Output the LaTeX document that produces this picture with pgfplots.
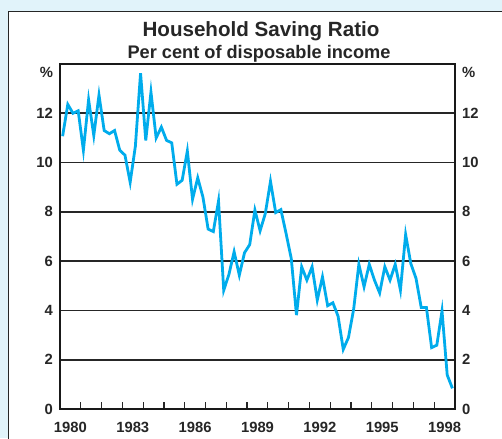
\documentclass[border=0pt]{standalone}
\usepackage{fontspec}
\setmainfont{Liberation Sans}
\usepackage{pgfplots}
\pgfplotsset{compat=1.18}
\definecolor{bgblue}{RGB}{225,243,250}
\definecolor{linecyan}{RGB}{0,172,236}
\begin{document}
\begin{tikzpicture}
\path[use as bounding box] (0,0) rectangle (251pt,219pt);
\fill[bgblue] (0,0) rectangle (251pt,219pt);
\filldraw[fill=white,draw=black!85,line width=0.5pt] (4pt,-20pt) rectangle (280pt,213pt);
\node[anchor=base,font=\fontsize{10.3}{12}\selectfont\bfseries,text=black!85] at (130.5pt,200.5pt) {Household Saving Ratio};
\node[anchor=base,font=\fontsize{9.1}{10}\selectfont\bfseries,text=black!85] at (129.5pt,189.6pt) {Per cent of disposable income};
\pgfplotsset{
  common/.style={
    scale only axis, width=197.5pt, height=172.5pt,
    at={(30pt,14.5pt)}, anchor=south west,
    xmin=1980, xmax=1999, ymin=0, ymax=14,
    tick label style={font=\fontsize{7.4}{8}\selectfont\bfseries, text=black!85},
    /pgf/number format/assume math mode=true,
    clip=false,
  }
}
\begin{axis}[common,
  axis line style={line width=1pt, black!90},
  xtick={1980,...,1998}, xticklabels={}, xtick pos=bottom, tick align=inside,
  major tick length=3.5pt, x tick style={line width=0.6pt, black!85},
  extra x ticks={1980.5,1983.5,1986.5,1989.5,1992.5,1995.5,1998.5},
  extra x tick labels={1980,1983,1986,1989,1992,1995,1998},
  extra x tick style={major tick length=0pt, tick label style={yshift=-3pt}},
  ytick={0,2,...,12}, ytick pos=left, yticklabel pos=left,
  y tick style={draw=none},
  ymajorgrids, grid style={line width=0.85pt, black!85},
  extra y ticks={13.65}, extra y tick labels={\%},
  extra y tick style={grid=none},
]
\addplot[linecyan, line width=1.4pt, mark=none] coordinates {
(1980.125,11.07) (1980.375,12.36) (1980.625,12.0) (1980.875,12.1)
(1981.125,10.5) (1981.375,12.55) (1981.625,11.1) (1981.875,12.74)
(1982.125,11.3) (1982.375,11.17) (1982.625,11.3) (1982.875,10.5)
(1983.125,10.3) (1983.375,9.2) (1983.625,10.66) (1983.875,13.63)
(1984.125,10.9) (1984.375,12.86) (1984.625,11.0) (1984.875,11.44)
(1985.125,10.9) (1985.375,10.8) (1985.625,9.12) (1985.875,9.28)
(1986.125,10.47) (1986.375,8.51) (1986.625,9.38) (1986.875,8.6)
(1987.125,7.3) (1987.375,7.2) (1987.625,8.44) (1987.875,4.82)
(1988.125,5.46) (1988.375,6.38) (1988.625,5.43) (1988.875,6.34)
(1989.125,6.67) (1989.375,8.07) (1989.625,7.23) (1989.875,7.93)
(1990.125,9.24) (1990.375,7.97) (1990.625,8.09) (1990.875,7.12)
(1991.125,6.1) (1991.375,3.81) (1991.625,5.77) (1991.875,5.23)
(1992.125,5.77) (1992.375,4.42) (1992.625,5.36) (1992.875,4.19)
(1993.125,4.31) (1993.375,3.77) (1993.625,2.42) (1993.875,2.9)
(1994.125,4.05) (1994.375,5.87) (1994.625,4.96) (1994.875,5.87)
(1995.125,5.23) (1995.375,4.71) (1995.625,5.77) (1995.875,5.23)
(1996.125,5.87) (1996.375,4.82) (1996.625,7.08) (1996.875,5.9)
(1997.125,5.3) (1997.375,4.12) (1997.625,4.12) (1997.875,2.49)
(1998.125,2.59) (1998.375,3.98) (1998.625,1.38) (1998.875,0.84)
};
\end{axis}
\begin{axis}[common,
  axis line style={draw=none},
  xtick=\empty,
  ytick={0,2,...,12}, ytick pos=right, yticklabel pos=right,
  y tick style={draw=none},
  extra y ticks={13.65}, extra y tick labels={\%},
]
\end{axis}
\end{tikzpicture}
\end{document}
